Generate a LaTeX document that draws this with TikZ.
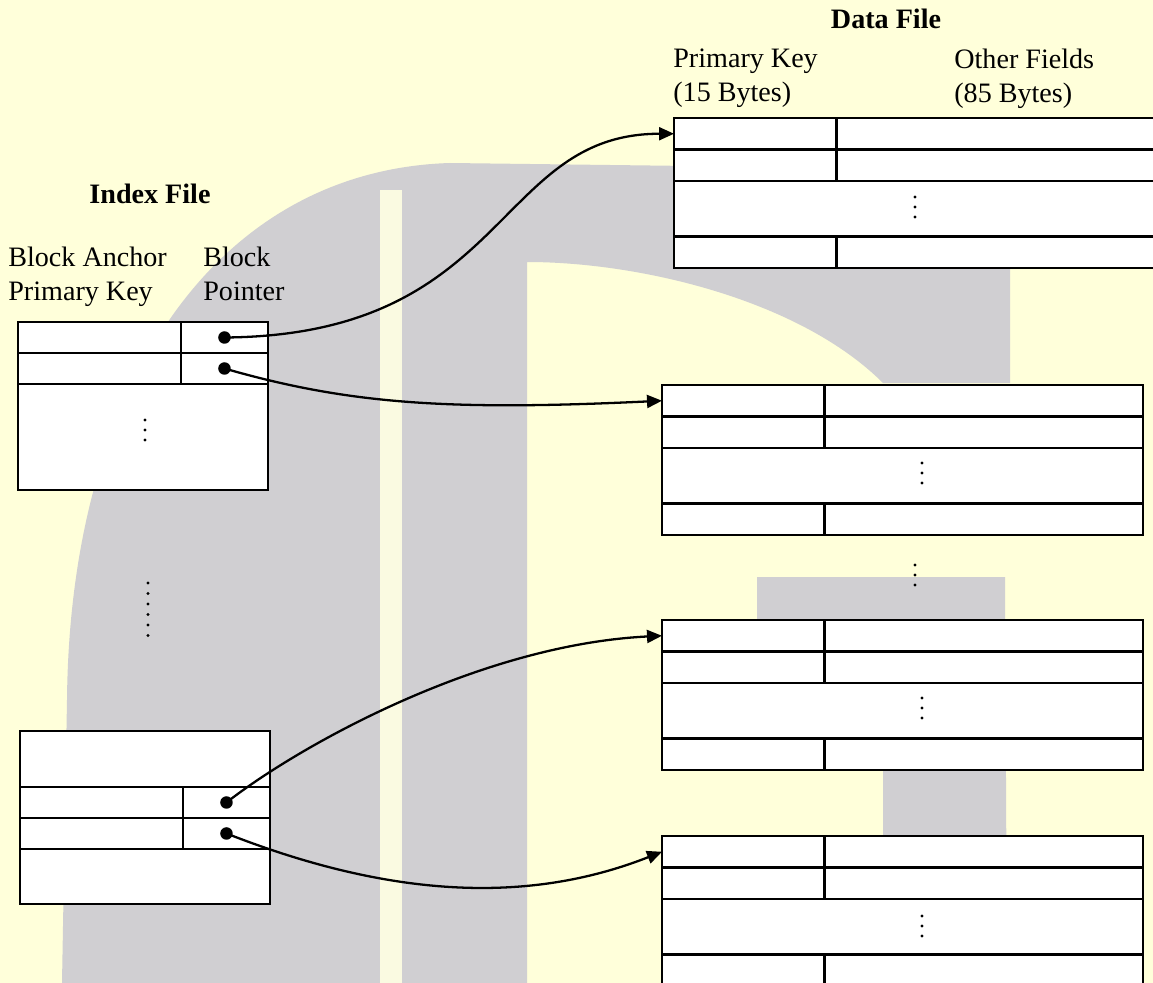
\documentclass[tikz,border=0pt]{standalone}
\usepackage{fontspec}
\setmainfont{Liberation Serif}
\usepackage{tikz}
\usetikzlibrary{arrows.meta,calc}

\definecolor{bgyellow}{RGB}{255,255,218}
\definecolor{wmgray}{RGB}{208,207,210}
\definecolor{wmstripe}{RGB}{250,250,225}

\tikzset{
  cell/.style={draw, fill=white, line width=1.3pt, inner sep=0pt,
               outer sep=0pt, anchor=north west},
  keycell/.style={cell, minimum width=3.25cm, minimum height=0.63cm},
  fieldcell/.style={cell, minimum width=6.37cm, minimum height=0.63cm},
  gapcell/.style={cell, minimum width=9.62cm, minimum height=1.11cm},
  ikeycell/.style={cell, minimum width=3.26cm, minimum height=0.62cm},
  iptrcell/.style={cell, minimum width=1.74cm, minimum height=0.62cm},
  ptrdot/.style={circle, fill=black, inner sep=0pt, minimum size=0.25cm},
  ptr/.style={-{Triangle[length=0.3cm,width=0.26cm]}, line width=1.3pt},
  headtext/.style={font=\fontsize{16}{19}\selectfont, align=left,
                   inner sep=0pt, anchor=north west},
  filetitle/.style={font=\fontsize{16}{19}\selectfont\bfseries,
                    inner sep=0pt, anchor=base},
}

\begin{document}
\begin{tikzpicture}[x=0.02cm, y=-0.02cm]
  \useasboundingbox (0,0) rectangle (1153,983);
  % Background watermark
  \fill[bgyellow] (0,0) rectangle (1153,983);
  \fill[wmgray] (62,983) -- (67,700) .. controls (70,380) and (220,170) .. (450,163)
    -- (1010,170) -- (1010,383) -- (883,383)
    .. controls (800,300) and (640,262) .. (527,262) -- (527,983) -- cycle;
  \fill[wmstripe] (380,190) rectangle (402,983);
  \fill[wmgray] (757,577) -- (1005,577) -- (1007,983) -- (883,983)
    -- (883,620) -- (757,620) -- cycle;

  % Headings
  \node[filetitle] (idxtitle) at (150,204) {Index File};
  \node[headtext] (idxkey) at (8,247) {Block Anchor\\Primary Key};
  \node[headtext] (idxptr) at (203,247) {Block\\Pointer};
  \node[filetitle] (datatitle) at (886,29) {Data File};
  \node[headtext] (datakey) at (673,49) {Primary Key\\(15 Bytes)};
  \node[headtext] (datafld) at (954,49) {Other Fields\\(85 Bytes)};

  % Index file, first block
  \node[ikeycell] (idx1-k1) at (18,322) {};
  \node[iptrcell] (idx1-p1) at (idx1-k1.north east) {};
  \node[ikeycell] (idx1-k2) at (idx1-k1.south west) {};
  \node[iptrcell] (idx1-p2) at (idx1-k2.north east) {};
  \node[cell, minimum width=5cm, minimum height=2.12cm] (idx1-gap)
    at (idx1-k2.south west) {};

  % Index file, last block
  \node[cell, minimum width=5cm, minimum height=1.12cm] (idx2-top) at (20,731) {};
  \node[ikeycell] (idx2-k1) at (idx2-top.south west) {};
  \node[iptrcell] (idx2-p1) at (idx2-k1.north east) {};
  \node[ikeycell] (idx2-k2) at (idx2-k1.south west) {};
  \node[iptrcell] (idx2-p2) at (idx2-k2.north east) {};
  \node[cell, minimum width=5cm, minimum height=1.1cm] (idx2-bot)
    at (idx2-k2.south west) {};

  % Data file blocks
  \foreach \n/\x/\y in {A/674/118, B/662/385, C/662/620, D/662/836} {
    \node[keycell] (\n-k1) at (\x,\y) {};
    \node[fieldcell] (\n-f1) at (\n-k1.north east) {};
    \node[keycell] (\n-k2) at (\n-k1.south west) {};
    \node[fieldcell] (\n-f2) at (\n-k2.north east) {};
    \node[gapcell] (\n-gap) at (\n-k2.south west) {};
    \node[keycell] (\n-k3) at (\n-gap.south west) {};
    \node[fieldcell] (\n-f3) at (\n-k3.north east) {};
  }

  % Vertical dots
  \foreach \px/\py in {145/430, 915/207, 922/473, 922/708, 922/926, 915/575}
    \foreach \d in {-10,0,10}
      \fill (\px,\py+\d) circle (1.6);
  \foreach \d in {583,593.5,...,636}
    \fill (148,\d) circle (1.6);

  % Block pointers
  \draw[ptr] (idx1-p1.center) .. controls +(285,-2) and +(-180,0) .. (A-k1.west);
  \draw[ptr] (idx1-p2.center) .. controls +(125,36) and +(-212,10) .. (B-k1.west);
  \draw[ptr] (idx2-p1.center) .. controls +(73,-57) and +(-182,9) .. (C-k1.west);
  \draw[ptr] (idx2-p2.center) .. controls +(153,60) and +(-142,56) .. (D-k1.west);
  \foreach \c in {idx1-p1, idx1-p2, idx2-p1, idx2-p2}
    \node[ptrdot] (\c-dot) at (\c.center) {};
\end{tikzpicture}
\end{document}
